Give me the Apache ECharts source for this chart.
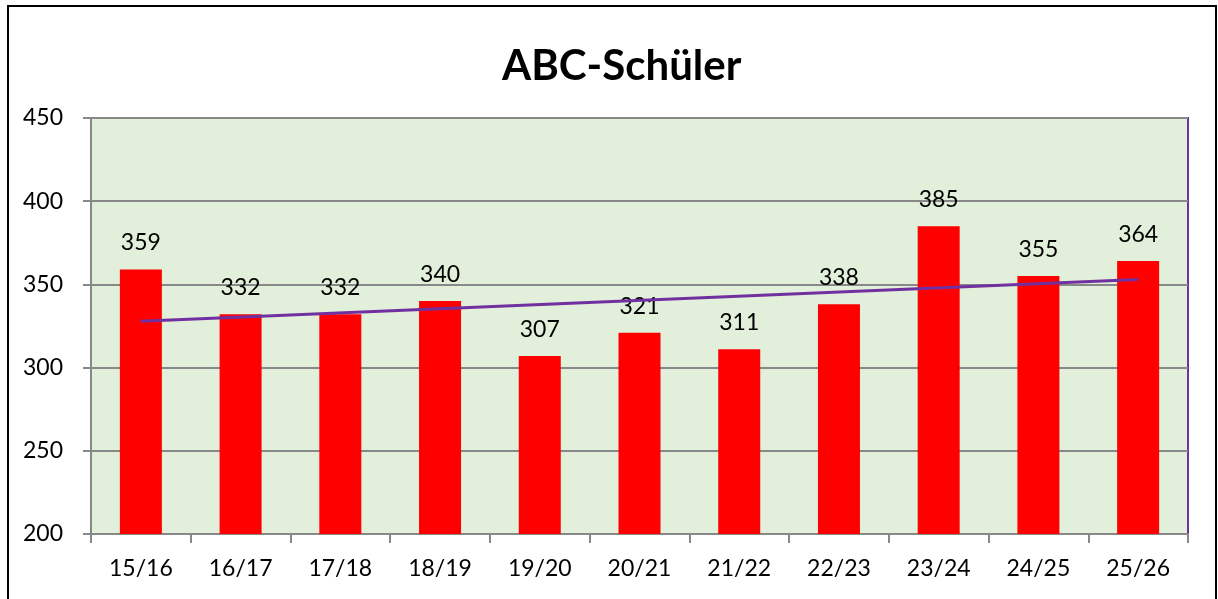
<!DOCTYPE html>
<html><head><meta charset="utf-8">
<script src="https://cdn.jsdelivr.net/npm/echarts@6/dist/echarts.min.js"></script>
<style>html,body{margin:0;padding:0;background:#fff}#c{width:1218px;height:599px}</style>
</head><body><div id="c"></div>
<script>
const categories = ['15/16','16/17','17/18','18/19','19/20','20/21','21/22','22/23','23/24','24/25','25/26'];
const students = [359,332,332,340,307,321,311,338,385,355,364];
const trendEnds = [327.8, 352.9];
const yTicks = {min:200, max:450, interval:50};

const font = 'Lato, "Open Sans", "Noto Sans", sans-serif';
const chart = echarts.init(document.getElementById('c'));
chart.setOption({
  animation:false,
  backgroundColor:'#fff',
  graphic:[{type:'rect', shape:{x:8,y:6,width:1208,height:620}, style:{fill:'none', stroke:'#000', lineWidth:2}, z:-10}],
  title:{text:'ABC-Schüler', left:497, top:40, textStyle:{fontFamily:font, fontWeight:'bold', fontSize:42, color:'#000'}},
  grid:{left:91, right:30, top:118, bottom:65, show:true, backgroundColor:'#E2EFDA', borderColor:'#7030A0', borderWidth:2},
  xAxis:{type:'category', data:categories,
    axisLine:{show:true, lineStyle:{color:'#888', width:2}},
    axisTick:{show:true, length:9, lineStyle:{color:'#888', width:2}},
    axisLabel:{fontFamily:font, fontSize:23, color:'#000', margin:23}},
  yAxis:{type:'value', min:yTicks.min, max:yTicks.max, interval:yTicks.interval,
    axisLine:{show:true, lineStyle:{color:'#888', width:2}},
    axisTick:{show:true, length:8, lineStyle:{color:'#888', width:2}},
    splitLine:{show:true, lineStyle:{color:'#888', width:2}},
    axisLabel:{fontFamily:font, fontSize:23, color:'#000', margin:28}},
  series:[
    {type:'bar', data:students, barWidth:42, itemStyle:{color:'#FF0000'},
     label:{show:true, position:'top', distance:15, fontFamily:font, fontSize:23, color:'#000'}},
    {type:'line', data:[[categories[0], trendEnds[0]],[categories[categories.length-1], trendEnds[1]]],
     symbol:'none', lineStyle:{color:'#7030A0', width:3}, z:5}
  ]
});
</script></body></html>
